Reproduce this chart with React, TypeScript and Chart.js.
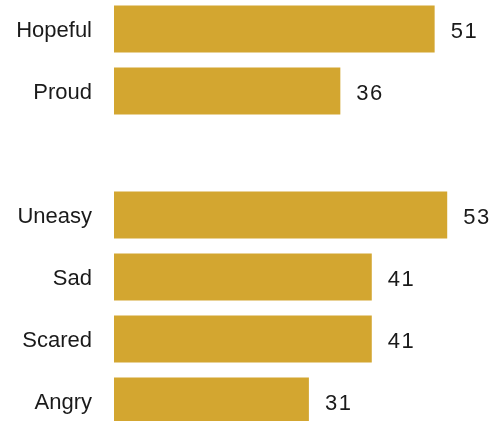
import React, { useEffect, useRef } from "react";
import { Chart, registerables } from "chart.js";

Chart.register(...registerables);

const categories: string[] = ["Hopeful", "Proud", "", "Uneasy", "Sad", "Scared", "Angry"];
const values: (number | null)[] = [51, 36, null, 53, 41, 41, 31];

const BAR_COLOR = "#D3A630";
const TEXT_COLOR = "#1a1a1a";
const FONT_FAMILY = "'Liberation Sans', Arial, sans-serif";

const valueLabels = {
  id: "valueLabels",
  afterDatasetsDraw(chart: any) {
    const ctx = chart.ctx;
    const meta = chart.getDatasetMeta(0);
    ctx.save();
    ctx.fillStyle = TEXT_COLOR;
    ctx.font = `22px ${FONT_FAMILY}`;
    ctx.textAlign = "left";
    ctx.textBaseline = "middle";
    try { (ctx as any).letterSpacing = "1.5px"; } catch (e) {}
    meta.data.forEach((bar: any, i: number) => {
      const v = values[i];
      if (v === null || v === undefined) return;
      ctx.fillText(String(v), bar.x + 16, bar.y + 2.5);
    });
    ctx.restore();
  },
};

export default function App() {
  const ref = useRef<HTMLCanvasElement>(null);
  useEffect(() => {
    if (!ref.current) return;
    const chart = new Chart(ref.current, {
      type: "bar",
      data: {
        labels: categories,
        datasets: [
          {
            data: values as any,
            backgroundColor: BAR_COLOR,
            borderWidth: 0,
            categoryPercentage: 1,
            barPercentage: 47 / 62,
          },
        ],
      },
      options: {
        indexAxis: "y",
        animation: false,
        responsive: false,
        maintainAspectRatio: false,
        layout: { padding: 0 },
        plugins: { legend: { display: false }, tooltip: { enabled: false } },
        scales: {
          x: { display: false, min: 0, max: 60.6 },
          y: {
            grid: { display: false, drawTicks: false },
            border: { display: false },
            ticks: {
              padding: 22,
              labelOffset: 2,
              color: TEXT_COLOR,
              font: { family: FONT_FAMILY, size: 22 },
            },
            afterFit: (scale: any) => {
              scale.width = 114;
              scale.paddingTop = 0;
              scale.paddingBottom = 0;
            },
          },
        },
      },
      plugins: [valueLabels],
    });
    return () => chart.destroy();
  }, []);
  return (
    <div style={{ position: "fixed", left: 0, top: -2, width: 495, height: 434 }}>
      <canvas ref={ref} width={495} height={434} style={{ display: "block" }} />
    </div>
  );
}
